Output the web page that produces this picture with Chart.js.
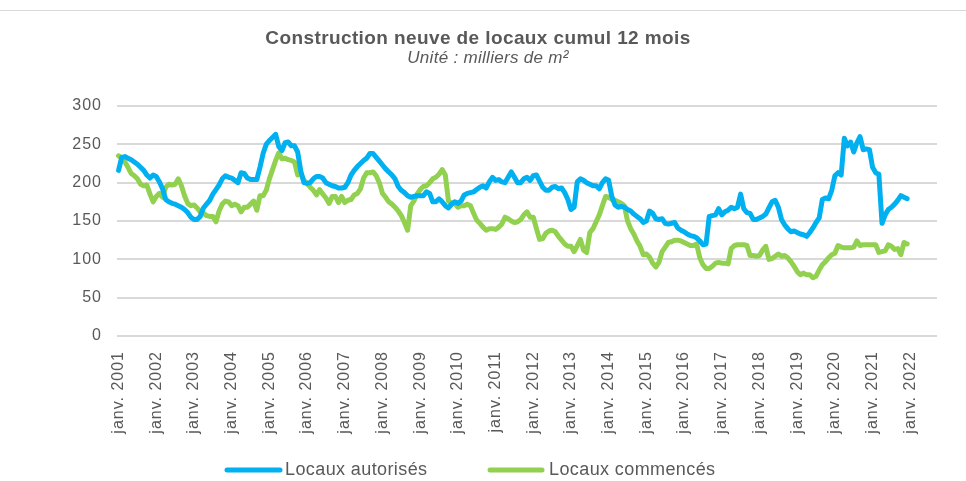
<!DOCTYPE html>
<html lang="fr">
<head>
<meta charset="utf-8">
<title>Construction neuve de locaux cumul 12 mois</title>
<script src="https://cdn.jsdelivr.net/npm/chart.js@4/dist/chart.umd.min.js"></script>
<style>
  html, body { margin: 0; padding: 0; background: #ffffff; }
  #wrap { width: 966px; height: 481px; }
</style>
</head>
<body>
<div id="wrap"><canvas id="chart" width="966" height="481"></canvas></div>
<script>
const title = "Construction neuve de locaux cumul 12 mois";
const subtitle = "Unité : milliers de m²";

const monthNames = ["janv.", "févr.", "mars", "avr.", "mai", "juin", "juil.", "août", "sept.", "oct.", "nov.", "déc."];
const years = [2001, 2002, 2003, 2004, 2005, 2006, 2007, 2008, 2009, 2010, 2011,
  2012, 2013, 2014, 2015, 2016, 2017, 2018, 2019, 2020, 2021, 2022];
const monthCount = 261; // the Excel axis runs a few months past the last value

const yTicks = [0, 50, 100, 150, 200, 250, 300];

// Locaux autorisés, janv. 2001 -> déc. 2021
const autorises = [
  216, 233, 234, 232, 230, 227, 224, 220, 216, 210, 206, 210,
  208, 201, 192, 178, 175, 173, 172, 170, 168, 165, 161, 155,
  152, 152, 156, 167, 172, 177, 185, 191, 197, 205, 209, 207,
  206, 203, 200, 213, 212, 206, 204, 204, 204, 220, 238, 250,
  255, 259, 263, 247, 242, 252, 253, 248, 248, 240, 215, 200,
  199, 200, 205, 208, 208, 206, 200, 198, 196, 195, 193, 193,
  194, 200, 210, 216, 221, 225, 229, 232, 238, 238, 233, 228,
  223, 218, 214, 210, 205, 195, 190, 187, 183, 181, 182, 183,
  183, 183, 188, 186, 175, 175, 179, 175, 170, 167, 172, 175,
  173, 176, 184, 186, 187, 188, 191, 194, 196, 193, 201, 207,
  203, 204, 201, 200, 207, 214, 207, 200, 200, 205, 207, 203,
  209, 210, 202, 194, 190, 190, 194, 195, 192, 193, 187, 178,
  165, 168, 201, 205, 203, 200, 198, 196, 196, 192, 200, 205,
  203, 182, 171, 168, 169, 168, 165, 163, 159, 156, 153, 148,
  150, 163, 160, 153, 152, 153, 147, 146, 147, 148, 141, 138,
  136, 133, 131, 130, 128, 124, 119, 120, 156, 157, 158, 166,
  158, 162, 164, 168, 166, 168, 185, 166, 161, 160, 152, 152,
  154, 156, 159, 167, 175, 177, 168, 152, 145, 140, 136, 137,
  135, 133, 132, 130, 135, 141, 148, 154, 178, 180, 179, 190,
  209, 213, 210, 258, 248, 253, 240, 252, 260, 243, 244, 243,
  220, 213, 211, 147, 158, 165, 168, 172, 177, 183, 181, 179
];

// Locaux commencés, janv. 2001 -> déc. 2021
const commences = [
  235, 232, 227, 220, 212, 209, 205, 198, 196, 197, 185, 175,
  182, 186, 181, 194, 198, 197, 198, 205, 196, 183, 173, 170,
  171, 167, 162, 160, 157, 156, 156, 149, 163, 172, 176, 175,
  170, 172, 170, 162, 168, 168, 172, 176, 164, 183, 183, 190,
  205, 217, 229, 239, 231, 232, 230, 229, 227, 210, 212, 203,
  199, 194, 190, 184, 191, 185, 180, 173, 182, 182, 174, 182,
  174, 177, 178, 184, 186, 192, 206, 213, 213, 214, 209, 200,
  186, 181, 175, 172, 168, 163, 157, 148, 138, 170, 176, 185,
  191, 195, 196, 200, 205, 207, 211, 217, 210, 176, 173, 173,
  168, 170, 170, 172, 170, 160, 151, 147, 142, 138, 140, 140,
  139, 142, 146, 155, 153, 150, 148, 149, 152, 158, 162, 155,
  155, 140, 126, 127, 134, 137, 138, 136, 130, 125, 120, 117,
  117, 110, 118, 126, 112, 109, 135, 140, 149, 158, 170, 182,
  181, 178, 177, 175, 173, 170, 150, 140, 133, 124, 117, 106,
  107, 103, 95, 90, 96, 110, 116, 122, 123, 125, 125, 124,
  122, 120, 118, 118, 120, 102, 93, 88, 88, 91, 95, 96,
  95, 95, 94, 114, 118, 119, 119, 119, 118, 105, 105, 104,
  105, 112, 117, 100, 101, 104, 107, 104, 105, 102, 97, 91,
  84, 80, 82, 80, 80, 76, 78, 86, 93, 97, 102, 106,
  108, 118, 116, 115, 115, 115, 116, 124, 118, 119, 119, 119,
  119, 119, 109, 110, 111, 119, 117, 113, 114, 106, 122, 120
];

const labels = years.flatMap(y => monthNames.map(m => m + " " + y)).slice(0, monthCount);

const textColor = "#595959";
const fontFamily = '"Liberation Sans", Arial, sans-serif';

// Excel spaces its letters a little wider than the canvas does
const spacing = {
  id: "spacing",
  beforeDraw(chart) { chart.ctx.letterSpacing = "1px"; }
};

// title, subtitle, frame line and legend are painted by hand to sit where Excel put them
const decorations = {
  id: "decorations",
  afterDraw(chart) {
    const ctx = chart.ctx;
    ctx.save();
    ctx.strokeStyle = "#d9d9d9";
    ctx.lineWidth = 1;
    ctx.beginPath();
    ctx.moveTo(0, 10.5);
    ctx.lineTo(966, 10.5);
    ctx.stroke();

    ctx.fillStyle = textColor;
    ctx.textAlign = "center";
    ctx.textBaseline = "alphabetic";
    ctx.letterSpacing = "0.4px";
    ctx.font = "bold 19px " + fontFamily;
    ctx.fillText(title, 478, 44);
    ctx.letterSpacing = "0.3px";
    ctx.font = "italic 17px " + fontFamily;
    ctx.fillText(subtitle, 488, 63);

    const legendPos = [
      { x1: 227, x2: 280, tx: 285 },
      { x1: 490, x2: 542, tx: 549 }
    ];
    ctx.letterSpacing = "0.4px";
    ctx.font = "18px " + fontFamily;
    ctx.textAlign = "left";
    ctx.textBaseline = "middle";
    chart.data.datasets.forEach((ds, i) => {
      const p = legendPos[i];
      ctx.strokeStyle = ds.borderColor;
      ctx.lineWidth = 5;
      ctx.lineCap = "round";
      ctx.beginPath();
      ctx.moveTo(p.x1, 470);
      ctx.lineTo(p.x2, 470);
      ctx.stroke();
      ctx.fillStyle = textColor;
      ctx.fillText(ds.label, p.tx, 470);
    });
    ctx.restore();
    ctx.letterSpacing = "0px";
  }
};

new Chart(document.getElementById("chart"), {
  type: "line",
  data: {
    labels: labels,
    datasets: [
      {
        label: "Locaux autorisés",
        data: autorises,
        borderColor: "#00B0F0",
        backgroundColor: "#00B0F0",
        borderWidth: 5,
        pointRadius: 0,
        tension: 0,
        borderCapStyle: "round",
        borderJoinStyle: "round"
      },
      {
        label: "Locaux commencés",
        data: commences,
        borderColor: "#92D050",
        backgroundColor: "#92D050",
        borderWidth: 5,
        pointRadius: 0,
        tension: 0,
        borderCapStyle: "round",
        borderJoinStyle: "round"
      }
    ]
  },
  options: {
    responsive: false,
    animation: false,
    events: [],
    layout: { padding: { top: 106, left: 0, right: 29, bottom: 0 } },
    plugins: {
      legend: { display: false },
      title: { display: false },
      tooltip: { enabled: false }
    },
    scales: {
      x: {
        type: "category",
        offset: true,
        grid: { display: false, drawTicks: false },
        border: { display: false },
        ticks: {
          autoSkip: false,
          maxRotation: 90,
          minRotation: 90,
          padding: 15,
          color: textColor,
          font: { family: fontFamily, size: 16 },
          callback: function (value, index) {
            return index % 12 === 0 ? labels[index] : null;
          }
        },
        afterFit(scale) { scale.height = 145; }
      },
      y: {
        min: 0,
        max: 300,
        afterBuildTicks(scale) { scale.ticks = yTicks.map(v => ({ value: v })); },
        grid: { color: "#d9d9d9", lineWidth: 2, drawTicks: false },
        border: { display: false },
        ticks: {
          padding: 15,
          color: textColor,
          font: { family: fontFamily, size: 16 }
        },
        afterFit(scale) { scale.width = 117; }
      }
    }
  },
  plugins: [spacing, decorations]
});
</script>
</body>
</html>
